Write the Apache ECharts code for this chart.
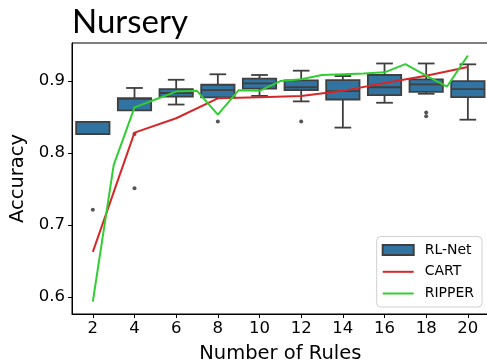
<!DOCTYPE html>
<html>
<head>
<meta charset="utf-8">
<script src="https://cdn.jsdelivr.net/npm/echarts@6/dist/echarts.min.js"></script>
<style>
  html, body { margin: 0; padding: 0; background: #fff; }
  #chart { width: 487px; height: 362px; }
</style>
</head>
<body>
<div id="chart"></div>
<script>
// Rule-count settings on the x axis
const ruleTicks = [2, 4, 6, 8, 10, 12, 14, 16, 18, 20];
const accuracyTicks = [0.6, 0.7, 0.8, 0.9];

// RL-Net accuracy distribution per rule count (box statistics)
const rlNetMin    = [0.826, 0.859, 0.867, 0.877, 0.879, 0.8714, 0.835, 0.8695, 0.882, 0.846];
const rlNetQ1     = [0.826, 0.859, 0.878, 0.877, 0.889, 0.887,  0.874, 0.880,  0.8847, 0.8774];
const rlNetMedian = [0.826, 0.875, 0.883, 0.887, 0.8964, 0.891, 0.8857, 0.891, 0.895, 0.8885];
const rlNetQ3     = [0.843, 0.876, 0.8885, 0.8945, 0.903, 0.9005, 0.901, 0.908, 0.902, 0.8996];
const rlNetMax    = [0.843, 0.890, 0.9014, 0.909, 0.908, 0.914, 0.9065, 0.924, 0.924, 0.9228];

// RL-Net outlier runs
const outlierRules = [2, 4, 4, 8, 12, 18, 18];
const outlierAcc   = [0.721, 0.751, 0.826, 0.8436, 0.8436, 0.856, 0.8506];

// CART accuracy per rule count
const cartRules = [2, 4, 6, 8, 10, 12, 14, 16, 18, 20];
const cartAcc   = [0.6625, 0.828, 0.848, 0.8756, 0.877, 0.879, 0.886, 0.897, 0.907, 0.919];

// RIPPER accuracy per rule count
const ripperRules = [2, 3, 4, 5, 6, 7, 8, 9, 10, 11, 12, 13, 14, 15, 16, 17, 18, 19, 20];
const ripperAcc   = [0.5935, 0.783, 0.863, 0.874, 0.885, 0.886, 0.853, 0.887, 0.886, 0.8996,
                     0.902, 0.908, 0.909, 0.910, 0.9117, 0.923, 0.907, 0.892, 0.935];

const BOX_HALF = 0.8;   // half box width, in rule units
const CAP_HALF = 0.4;   // half whisker-cap width
const EDGE = '#3f3f3f';
const BOX_FILL = '#3274a1';
const CART_COLOR = '#d62728';
const RIPPER_COLOR = '#32cd32';
const LINE_ICON = 'path://M0,0 L31,0 L31,2 L0,2 Z';

const boxData = ruleTicks.map((r, i) => [r, rlNetMin[i], rlNetQ1[i], rlNetMedian[i], rlNetQ3[i], rlNetMax[i]]);
const outlierData = outlierRules.map((r, i) => [r, outlierAcc[i]]);
const cartData = cartRules.map((r, i) => [r, cartAcc[i]]);
const ripperData = ripperRules.map((r, i) => [r, ripperAcc[i]]);

function renderBox(params, api) {
  const x = api.value(0);
  const lo = api.value(1), q1 = api.value(2), md = api.value(3), q3 = api.value(4), hi = api.value(5);
  const tl = api.coord([x - BOX_HALF, q3]);
  const br = api.coord([x + BOX_HALF, q1]);
  const cx = api.coord([x, md])[0];
  const yMd = api.coord([x, md])[1];
  const yLo = api.coord([x, lo])[1];
  const yHi = api.coord([x, hi])[1];
  const capL = api.coord([x - CAP_HALF, lo])[0];
  const capR = api.coord([x + CAP_HALF, lo])[0];
  const lineStyle = { stroke: EDGE, lineWidth: 1.8, fill: null };
  const children = [];
  if (yHi < tl[1] - 0.5) {
    children.push({ type: 'line', shape: { x1: cx, y1: tl[1], x2: cx, y2: yHi }, style: lineStyle });
    children.push({ type: 'line', shape: { x1: capL, y1: yHi, x2: capR, y2: yHi }, style: lineStyle });
  }
  if (yLo > br[1] + 0.5) {
    children.push({ type: 'line', shape: { x1: cx, y1: br[1], x2: cx, y2: yLo }, style: lineStyle });
    children.push({ type: 'line', shape: { x1: capL, y1: yLo, x2: capR, y2: yLo }, style: lineStyle });
  }
  children.push({
    type: 'rect',
    shape: { x: tl[0], y: tl[1], width: br[0] - tl[0], height: br[1] - tl[1] },
    style: { fill: BOX_FILL, stroke: EDGE, lineWidth: 1.8 }
  });
  children.push({ type: 'line', shape: { x1: tl[0], y1: yMd, x2: br[0], y2: yMd }, style: lineStyle });
  return { type: 'group', children: children };
}

const chart = echarts.init(document.getElementById('chart'), null, { renderer: 'canvas' });
const tickFont = { fontFamily: 'DejaVu Sans', fontSize: 16.5, color: '#000' };
const labelFont = { fontFamily: 'DejaVu Sans', fontSize: 19.5, color: '#000' };

chart.setOption({
  animation: false,
  backgroundColor: '#fff',
  title: {
    text: 'Nursery',
    left: 67, top: 1,
    textStyle: { fontFamily: 'Lato', fontWeight: 'normal', fontSize: 33, color: '#000' }
  },
  grid: {
    left: 72, top: 43, width: 416.7, height: 271,
    outerBoundsMode: 'none', containLabel: false,
    show: true, borderColor: '#000', borderWidth: 1, backgroundColor: 'transparent'
  },
  legend: {
    orient: 'vertical',
    right: 5, bottom: 55,
    itemWidth: 31, itemHeight: 10, itemGap: 7.7,
    padding: [6.5, 8, 6.5, 5],
    borderColor: '#d0d0d0', borderWidth: 1, borderRadius: 4,
    backgroundColor: 'rgba(255,255,255,0.85)',
    textStyle: { fontFamily: 'DejaVu Sans', fontSize: 14, lineHeight: 14, color: '#000', padding: [0, 0, 0, 6] },
    data: [
      { name: 'RL-Net', icon: 'rect' },
      { name: 'CART', icon: LINE_ICON },
      { name: 'RIPPER', icon: LINE_ICON }
    ]
  },
  xAxis: {
    type: 'value', min: 1, max: 21,
    name: 'Number of Rules', nameLocation: 'middle', nameGap: 30,
    nameTextStyle: labelFont,
    axisLine: { show: true, onZero: false, lineStyle: { color: '#000', width: 1 } },
    axisTick: { show: true, length: 4, customValues: ruleTicks, lineStyle: { color: '#000' } },
    axisLabel: Object.assign({ customValues: ruleTicks, margin: 6 }, tickFont),
    splitLine: { show: false }
  },
  yAxis: {
    type: 'value', min: 0.5764, max: 0.9524,
    name: 'Accuracy', nameLocation: 'middle', nameGap: 42, nameRotate: 90,
    nameTextStyle: labelFont,
    axisLine: { show: true, onZero: false, lineStyle: { color: '#000', width: 1 } },
    axisTick: { show: true, length: 4, customValues: accuracyTicks, lineStyle: { color: '#000' } },
    axisLabel: Object.assign({ customValues: accuracyTicks, margin: 7, formatter: v => v.toFixed(1) }, tickFont),
    splitLine: { show: false }
  },
  series: [
    {
      name: 'RL-Net',
      type: 'custom',
      renderItem: renderBox,
      data: boxData,
      encode: { x: 0, y: [1, 2, 3, 4, 5] },
      itemStyle: { color: BOX_FILL, borderColor: EDGE, borderWidth: 1.5 },
      z: 2
    },
    {
      name: 'outliers',
      type: 'scatter',
      data: outlierData,
      symbol: 'circle',
      symbolSize: 4,
      itemStyle: { color: '#2b2b2b' },
      z: 3
    },
    {
      name: 'CART',
      type: 'line',
      data: cartData,
      showSymbol: false, symbol: 'none',
      lineStyle: { color: CART_COLOR, width: 2 },
      itemStyle: { color: CART_COLOR },
      z: 4
    },
    {
      name: 'RIPPER',
      type: 'line',
      data: ripperData,
      showSymbol: false, symbol: 'none',
      lineStyle: { color: RIPPER_COLOR, width: 2 },
      itemStyle: { color: RIPPER_COLOR },
      z: 5
    }
  ]
});
</script>
</body>
</html>
